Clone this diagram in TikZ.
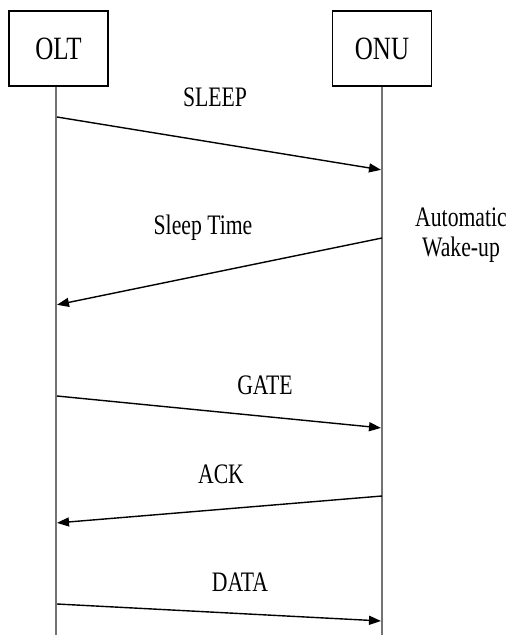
\documentclass[tikz,border=0pt]{standalone}
\usepackage{fontspec}
\setmainfont{Liberation Serif}
\usetikzlibrary{arrows.meta}
\newcommand{\vstr}[1]{\scalebox{1}[1.3]{#1}}
\begin{document}
\begin{tikzpicture}[x=1pt,y=-1pt,
  actorbox/.style={draw,line width=1.2pt,minimum width=99pt,minimum height=75pt,inner sep=0pt,font=\fontsize{25}{28}\selectfont},
  lifeline/.style={draw=black!55,line width=1.6pt},
  msg/.style={draw=black,line width=1.4pt,-{Triangle[length=12pt,width=9pt]},shorten >=1pt},
  lbl/.style={inner sep=0pt,font=\fontsize{21.7}{26}\selectfont,align=center}]
\useasboundingbox (0,0) rectangle (507,635);
\node[actorbox] (olt) at (58.5,48.5) {\vstr{OLT}};
\node[actorbox] (onu) at (382,48.5) {\vstr{ONU}};
\coordinate (oltend) at (56,635);
\coordinate (onuend) at (382,635);
\draw[lifeline] (olt.south -| oltend) -- (oltend);
\draw[lifeline] (onu.south -| onuend) -- (onuend);
% message points
\coordinate (s1) at (57,117);  \coordinate (e1) at (382,170);
\coordinate (s2) at (382,238); \coordinate (e2) at (56,305);
\coordinate (s3) at (57,396);  \coordinate (e3) at (382,428);
\coordinate (s4) at (382,496); \coordinate (e4) at (56,523);
\coordinate (s5) at (57,604);  \coordinate (e5) at (382,621);
\draw[msg] (s1) -- (e1);
\draw[msg] (s2) -- (e2);
\draw[msg] (s3) -- (e3);
\draw[msg] (s4) -- (e4);
\draw[msg] (s5) -- (e5);
\node[lbl] (l1) at (215,97) {\vstr{SLEEP}};
\node[lbl] (l2) at (203,228) {\vstr{Sleep Time}};
\node[lbl] (l3a) at (461,217) {\vstr{Automatic}};
\node[lbl] (l3b) at (461,250) {\vstr{Wake-up}};
\node[lbl] (l4) at (265,385) {\vstr{GATE}};
\node[lbl] (l5) at (221,474) {\vstr{ACK}};
\node[lbl] (l6) at (240,582) {\vstr{DATA}};
\end{tikzpicture}
\end{document}
